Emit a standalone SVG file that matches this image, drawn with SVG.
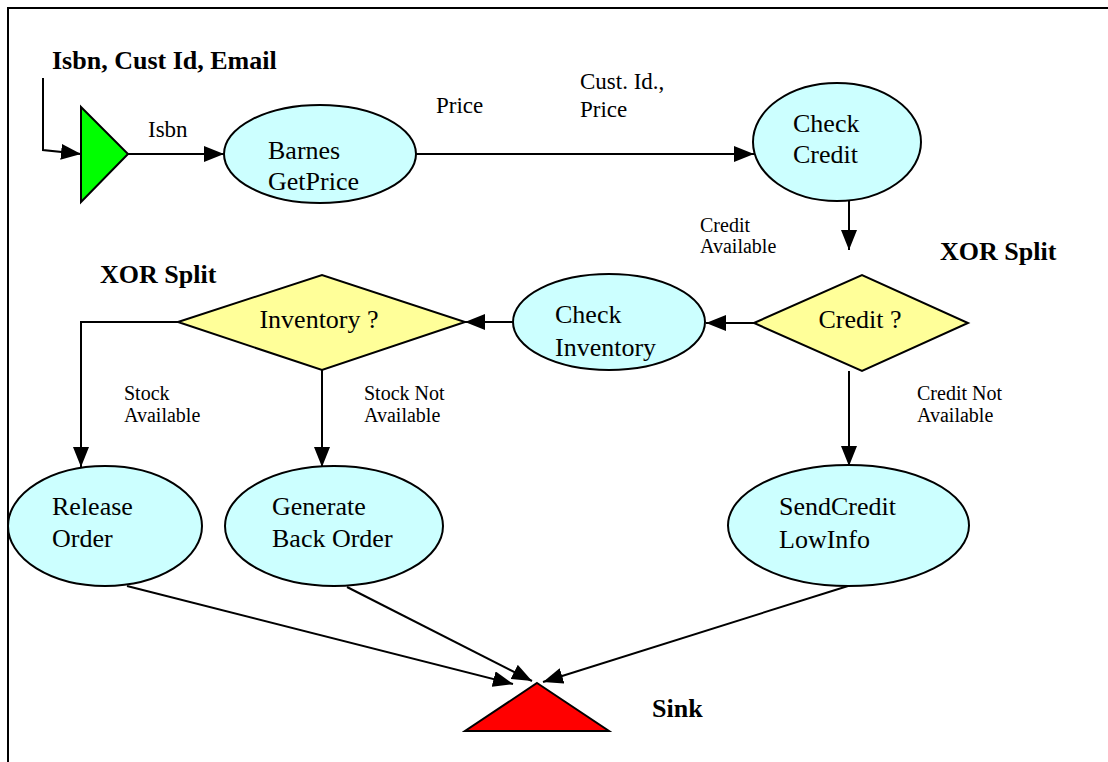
<svg xmlns="http://www.w3.org/2000/svg" width="1108" height="762" viewBox="0 0 1108 762" font-family="Liberation Serif, Times New Roman, serif">
<style>
text{font-family:'Liberation Serif','Times New Roman',serif;fill:#000}
.n{font-size:26px}
.e{font-size:23px}
.s{font-size:20px}
.b{font-size:26px;font-weight:bold}
.el{fill:#CCFFFF;stroke:#000;stroke-width:2}
.dm{fill:#FFFF99;stroke:#000;stroke-width:2}
.c{fill:none;stroke:#000;stroke-width:2}
</style>
<defs>
<marker id="a" markerUnits="userSpaceOnUse" markerWidth="22" markerHeight="16" refX="20" refY="8" orient="auto">
<path d="M0,0 L20,8 L0,16 Z" fill="#000"/>
</marker>
</defs>
<rect width="1108" height="762" fill="#fff"/>
<path d="M8,762 L8,8 L1108,8" fill="none" stroke="#000" stroke-width="2"/>
<text class="b" x="52" y="69">Isbn, Cust Id, Email</text>
<text class="b" x="100" y="283">XOR Split</text>
<text class="b" x="940" y="260">XOR Split</text>
<g id="connectors">
<path class="c" d="M43,78 L43,150 L81,154" marker-end="url(#a)"/>
<path class="c" d="M128,154 L224,154" marker-end="url(#a)"/>
<path class="c" d="M416,154 L754,154" marker-end="url(#a)"/>
<path class="c" d="M849,201 L849,250" marker-end="url(#a)"/>
<path class="c" d="M754,323 L706,323" marker-end="url(#a)"/>
<path class="c" d="M513,322 L465,322" marker-end="url(#a)"/>
<path class="c" d="M178,322 L81,322 L81,467" marker-end="url(#a)"/>
<path class="c" d="M322,370 L322,467" marker-end="url(#a)"/>
<path class="c" d="M849,371 L849,466" marker-end="url(#a)"/>
<path class="c" d="M127,586 L513,684" marker-end="url(#a)"/>
<path class="c" d="M347,587 L532,681" marker-end="url(#a)"/>
<path class="c" d="M848,586 L543,682" marker-end="url(#a)"/>
<text class="e" x="148" y="137">Isbn</text>
<text class="e" x="436" y="113">Price</text>
<text class="e" x="580" y="89">Cust. Id.,</text>
<text class="e" x="580" y="117">Price</text>
<text class="s" x="700" y="232">Credit</text>
<text class="s" x="700" y="253">Available</text>
<text class="s" x="917" y="400">Credit Not</text>
<text class="s" x="917" y="422">Available</text>
<text class="s" x="124" y="400">Stock</text>
<text class="s" x="124" y="422">Available</text>
<text class="s" x="364" y="400">Stock Not</text>
<text class="s" x="364" y="422">Available</text>
</g>
<g id="source">
<polygon points="81,107 128,154 81,202" fill="#00FF00" stroke="#000" stroke-width="2"/>
</g>
<g id="barnes">
<ellipse class="el" cx="320" cy="154" rx="96" ry="49"/>
<text class="n" x="268" y="159">Barnes</text>
<text class="n" x="268" y="190">GetPrice</text>
</g>
<g id="checkcredit">
<ellipse class="el" cx="837" cy="142" rx="84" ry="59"/>
<text class="n" x="793" y="132">Check</text>
<text class="n" x="793" y="163">Credit</text>
</g>
<g id="credit">
<polygon class="dm" points="754,323 862,275 968,323 862,371"/>
<text class="n" x="860" y="328" text-anchor="middle">Credit ?</text>
</g>
<g id="checkinventory">
<ellipse class="el" cx="609" cy="322" rx="96" ry="48"/>
<text class="n" x="555" y="323">Check</text>
<text class="n" x="555" y="356">Inventory</text>
</g>
<g id="inventory">
<polygon class="dm" points="178,322 322,275 465,322 322,370"/>
<text class="n" x="319" y="328" text-anchor="middle">Inventory ?</text>
</g>
<g id="release">
<ellipse class="el" cx="105" cy="526" rx="97" ry="60"/>
<text class="n" x="52" y="515">Release</text>
<text class="n" x="52" y="547">Order</text>
</g>
<g id="generate">
<ellipse class="el" cx="334" cy="526" rx="109" ry="60"/>
<text class="n" x="272" y="515">Generate</text>
<text class="n" x="272" y="547">Back Order</text>
</g>
<g id="sendcredit">
<ellipse class="el" cx="848.5" cy="525.5" rx="120.5" ry="60.5"/>
<text class="n" x="779" y="515">SendCredit</text>
<text class="n" x="779" y="548">LowInfo</text>
</g>
<g id="sink">
<polygon points="537,683 609,731 465,731" fill="#FF0000" stroke="#000" stroke-width="2"/>
<text class="b" x="652" y="717">Sink</text>
</g>
</svg>
